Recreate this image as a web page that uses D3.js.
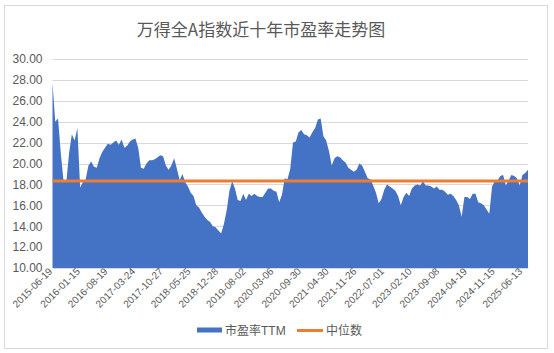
<!DOCTYPE html>
<html>
<head>
<meta charset="utf-8">
<script src="https://cdn.jsdelivr.net/npm/d3@7"></script>
<style>
  html, body { margin: 0; padding: 0; background: #fff; }
  svg { display: block; font-family: "Liberation Sans", "Noto Sans CJK SC", sans-serif; }
</style>
</head>
<body>
<div id="chart"></div>
<script>
// PE TTM, one reading every 3 weeks (weekly series, 2015-06 .. 2025-06)
const peTTM = [
  27.7, 24.0, 24.3, 21.0, 18.3, 18.2, 21.0, 22.8, 22.2, 23.4,
  17.7, 18.2, 18.5, 19.8, 20.2, 19.7, 19.6, 20.5, 21.1, 21.5,
  21.9, 21.8, 22.0, 22.2, 21.8, 22.3, 21.5, 21.7, 22.1, 22.3,
  22.4, 21.5, 19.6, 19.5, 20.0, 20.3, 20.3, 20.4, 20.6, 20.8,
  20.7, 19.8, 19.4, 19.8, 20.5, 19.5, 18.4, 19.0, 18.2, 17.8,
  17.2, 16.9, 16.0, 15.8, 15.3, 14.9, 14.6, 14.4, 14.0, 13.9,
  13.6, 13.3, 14.2, 15.5, 17.4, 18.3, 17.6, 16.5, 16.4, 17.1,
  16.5, 17.1, 16.9, 17.1, 16.9, 16.8, 16.8, 17.2, 17.6, 17.6,
  17.4, 17.3, 16.3, 17.0, 18.6, 18.5, 19.5, 22.0, 22.1, 23.0,
  23.2, 22.8, 22.7, 22.5, 23.0, 23.4, 24.2, 24.3, 22.6, 22.2,
  21.2, 19.8, 20.5, 20.7, 20.6, 20.3, 20.1, 19.6, 19.4, 19.2,
  19.4, 20.0, 19.8, 19.2, 18.6, 18.5, 17.9, 17.2, 16.2, 16.6,
  17.5, 18.0, 17.8, 17.6, 17.4, 16.9, 16.0, 16.8, 17.2, 16.9,
  17.6, 17.9, 18.0, 17.9, 18.3, 17.9, 17.9, 17.8, 17.6, 17.8,
  17.5, 17.5, 17.3, 17.0, 17.1, 16.9, 16.5, 16.0, 14.9, 16.8,
  16.8, 16.6, 17.1, 17.1, 16.3, 16.2, 16.0, 15.6, 15.2, 17.8,
  18.3, 18.4, 18.8, 18.9, 17.9, 18.4, 18.9, 18.8, 18.6, 17.9,
  18.9, 19.1, 19.4
];
const medianPE = 18.33;

// category labels, one every 10 readings (30 weeks)
const tickLabels = [
  '2015-06-19', '2016-01-15', '2016-08-19', '2017-03-24', '2017-10-27', '2018-05-25',
  '2018-12-28', '2019-08-02', '2020-03-06', '2020-09-30', '2021-04-30', '2021-11-26',
  '2022-07-01', '2023-02-10', '2023-09-08', '2024-04-19', '2024-11-15', '2025-06-13'
];
const yTicks = [10, 12, 14, 16, 18, 20, 22, 24, 26, 28, 30];

const title = '万得全A指数近十年市盈率走势图';
const seriesNames = ['市盈率TTM', '中位数'];

const W = 554, H = 353;
const plotLeft = 52.5, plotRight = 528, plotTop = 59, plotBottom = 268;
const textColor = '#595959';

const svg = d3.select('#chart').append('svg')
    .attr('width', W)
    .attr('height', H);

// card frame
svg.append('rect')
    .attr('x', 4.5).attr('y', 5.5)
    .attr('width', 543).attr('height', 343)
    .attr('fill', '#fff')
    .attr('stroke', '#d9d9d9');

svg.append('text')
    .attr('x', 261)
    .attr('y', 36)
    .attr('text-anchor', 'middle')
    .attr('font-family', '"Noto Sans CJK SC", sans-serif')
    .attr('font-size', 17)
    .attr('fill', textColor)
    .text(title);

const x = d3.scaleLinear()
    .domain([0, peTTM.length - 1])
    .range([plotLeft, plotRight]);
const y = d3.scaleLinear()
    .domain([10, 30])
    .range([plotBottom, plotTop]);

// gridlines
svg.append('g')
    .selectAll('line')
    .data(yTicks)
    .enter()
    .append('line')
    .attr('x1', plotLeft)
    .attr('x2', plotRight)
    .attr('y1', d => Math.round(y(d)) + 0.5)
    .attr('y2', d => Math.round(y(d)) + 0.5)
    .attr('stroke', '#d9d9d9')
    .attr('stroke-width', 1);

const yAxis = svg.append('g')
    .attr('transform', `translate(${plotLeft}, 0)`)
    .call(d3.axisLeft(y).tickValues(yTicks).tickFormat(d3.format('.2f')).tickSize(0).tickPadding(10));
yAxis.select('.domain').remove();
yAxis.selectAll('text')
    .attr('font-size', 12)
    .attr('fill', textColor);

// area
const area = d3.area()
    .x((d, i) => x(i))
    .y0(y(10))
    .y1(d => y(d));
svg.append('path')
    .datum(peTTM)
    .attr('d', area)
    .attr('fill', '#4472c4');

// median line
svg.append('line')
    .attr('x1', plotLeft)
    .attr('x2', plotRight)
    .attr('y1', y(medianPE))
    .attr('y2', y(medianPE))
    .attr('stroke', '#ed7d31')
    .attr('stroke-width', 3);

const xAxis = svg.append('g')
    .attr('transform', `translate(0, ${plotBottom})`)
    .call(d3.axisBottom(x)
        .tickValues(tickLabels.map((d, i) => i * 10))
        .tickFormat((d, i) => tickLabels[i])
        .tickSize(0));
xAxis.select('.domain').attr('stroke', '#d9d9d9');
xAxis.selectAll('text')
    .attr('font-size', 10)
    .attr('fill', textColor)
    .attr('text-anchor', 'end')
    .attr('dy', 0)
    .attr('transform', 'translate(0, 4) rotate(-45)')
    .attr('y', 0)
    .attr('x', 0);

// legend
const legend = svg.append('g').attr('font-size', 12).attr('fill', textColor);
legend.append('rect')
    .attr('x', 197).attr('y', 327.5)
    .attr('width', 25).attr('height', 5)
    .attr('fill', '#4472c4');
legend.append('text')
    .attr('x', 225).attr('y', 334.5)
    .text(seriesNames[0]);
legend.append('line')
    .attr('x1', 297).attr('x2', 323)
    .attr('y1', 330.5).attr('y2', 330.5)
    .attr('stroke', '#ed7d31')
    .attr('stroke-width', 3);
legend.append('text')
    .attr('x', 326).attr('y', 334.5)
    .text(seriesNames[1]);
</script>
</body>
</html>
